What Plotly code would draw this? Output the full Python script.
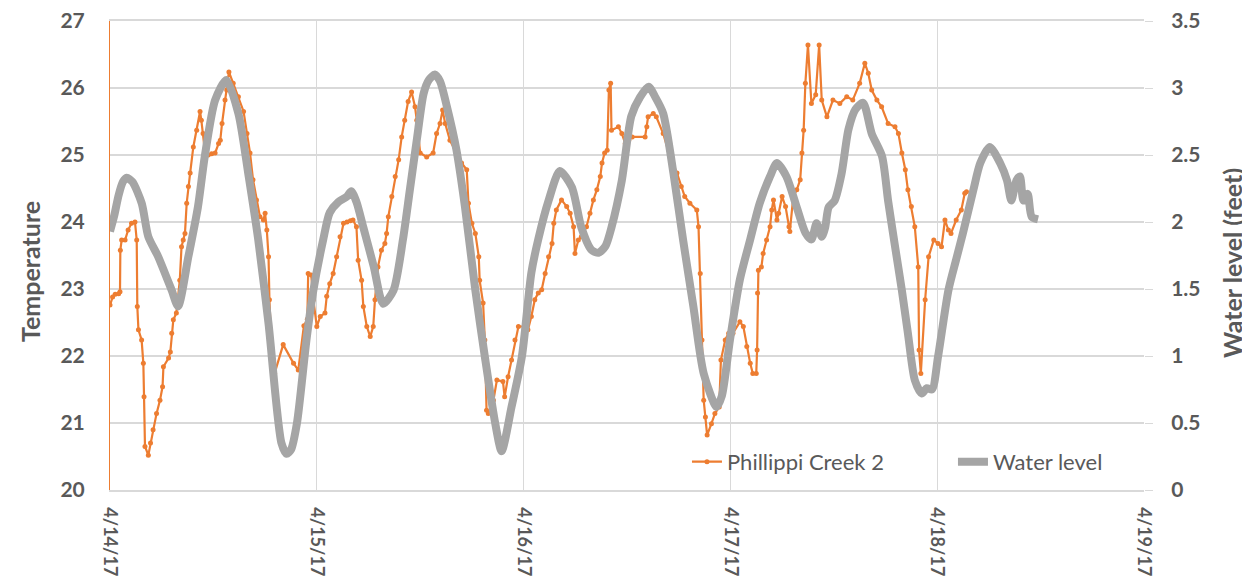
import pandas as pd
import plotly.graph_objects as go

# ---- data (hours since 4/14/17 00:00, values) ----
temp_hours = [0.0, 0.3, 0.6, 1.0, 1.16, 1.2, 1.35, 1.75, 2.1, 2.5, 2.9, 3.1, 3.17, 3.3, 3.67, 3.87, 3.95, 4.06, 4.45, 4.7,
              5.0, 5.4, 5.8, 6.1, 6.2, 6.8, 7.0, 7.16, 7.35, 7.7, 8.1, 8.3, 8.5, 8.7, 8.9, 9.1, 9.3, 9.67, 10.06, 10.45,
              10.6, 10.8, 11.0, 11.4, 11.8, 12.2, 12.6, 12.8, 13.0, 13.35, 13.55, 13.8, 14.3, 14.9, 15.5, 15.9, 16.25, 16.6, 17.0, 17.4,
              17.8, 18.0, 18.2, 18.4, 18.5, 18.7, 19.1, 20.1, 21.3, 21.85, 22.5, 22.9, 23.0, 23.35, 23.6, 24.0, 24.4, 24.95, 25.15, 25.5,
              25.9, 26.3, 26.7, 27.1, 27.5, 27.9, 28.2, 28.6, 28.8, 29.2, 29.4, 29.8, 30.2, 30.55, 30.75, 31.1, 31.5, 31.9, 32.1, 32.3,
              32.7, 33.1, 33.5, 33.85, 34.2, 34.6, 35.0, 35.4, 35.6, 36.0, 36.75, 37.5, 37.9, 38.3, 38.6, 38.9, 39.45, 40.2, 40.8, 41.4,
              41.6, 42.0, 42.4, 42.8, 42.9, 43.3, 43.5, 43.7, 43.9, 44.5, 44.9, 45.6, 45.8, 46.2, 46.6, 47.0, 47.4, 48.2, 48.5, 48.9,
              49.3, 49.7, 50.1, 50.5, 50.9, 51.3, 51.5, 51.8, 52.4, 53.0, 53.4, 53.8, 53.96, 54.35, 54.7, 55.3, 55.7, 56.1, 56.5, 56.9,
              57.1, 57.4, 57.7, 57.9, 58.1, 58.2, 59.0, 59.4, 59.8, 60.2, 60.6, 62.1, 62.3, 62.45, 63.05, 63.4, 64.2, 65.0, 65.8, 66.3,
              66.7, 67.3, 68.1, 68.3, 68.5, 68.7, 68.9, 69.1, 69.3, 69.8, 70.2, 70.7, 70.9, 71.4, 71.8, 72.3, 73.1, 73.5, 73.9, 74.3,
              74.6, 75.0, 75.1, 75.15, 75.25, 75.6, 75.8, 76.2, 76.6, 76.8, 77.0, 77.4, 77.6, 78.0, 78.4, 78.8, 78.9, 79.3, 79.7, 80.1,
              80.3, 80.5, 80.7, 81.0, 81.4, 81.9, 82.3, 82.6, 83.2, 83.9, 84.7, 85.5, 86.2, 87.0, 87.6, 88.0, 88.4, 89.0, 89.55, 90.3,
              91.1, 91.5, 91.9, 92.3, 92.6, 93.0, 93.4, 93.8, 93.9, 94.1, 94.6, 95.0, 95.6, 96.1, 96.5, 96.9, 97.3, 97.6, 98.2, 98.8,
              99.2, 99.4]
temp_values = [22.76, 22.88, 22.92, 22.93, 22.96, 23.58, 23.73, 23.73, 23.88, 23.98, 24.0, 23.73, 22.74, 22.39, 22.24, 21.89, 21.39, 20.65, 20.52, 20.7,
               20.9, 21.14, 21.34, 21.54, 21.84, 21.97, 22.06, 22.34, 22.54, 22.64, 23.13, 23.63, 23.73, 23.83, 24.28, 24.53, 24.73, 25.12, 25.37, 25.65,
               25.52, 25.32, 25.07, 25.0, 25.02, 25.03, 25.17, 25.22, 25.47, 25.82, 25.97, 26.24, 26.07, 25.87, 25.65, 25.32, 25.03, 24.63, 24.33, 24.08,
               24.03, 24.13, 23.88, 23.48, 22.84, 22.24, 21.74, 22.17, 21.89, 21.79, 22.45, 22.55, 23.23, 23.21, 22.84, 22.44, 22.59, 22.64, 22.89, 23.08,
               23.23, 23.48, 23.78, 23.98, 24.0, 24.02, 24.03, 23.93, 23.43, 23.13, 22.74, 22.44, 22.29, 22.44, 22.84, 23.33, 23.58, 23.68, 23.83, 24.08,
               24.38, 24.68, 24.93, 25.27, 25.52, 25.8, 25.94, 25.72, 25.52, 25.03, 24.97, 25.03, 25.32, 25.47, 25.67, 25.47, 25.22, 25.03, 24.88, 24.78,
               24.28, 23.98, 23.83, 23.48, 23.13, 22.79, 22.24, 21.19, 21.14, 21.34, 21.64, 21.62, 21.39, 21.69, 21.94, 22.24, 22.44, 22.44, 22.39, 22.59,
               22.84, 22.94, 22.99, 23.23, 23.48, 23.68, 23.98, 24.18, 24.33, 24.23, 24.13, 23.93, 23.53, 23.73, 23.78, 23.93, 24.13, 24.33, 24.48, 24.68,
               24.88, 25.03, 25.07, 25.97, 26.07, 25.37, 25.42, 25.32, 25.17, 25.22, 25.27, 25.27, 25.42, 25.57, 25.62, 25.57, 25.32, 24.97, 24.73, 24.53,
               24.38, 24.28, 24.18, 23.93, 23.23, 22.24, 21.34, 21.09, 20.82, 20.99, 21.14, 21.24, 21.94, 22.24, 22.34, 22.34, 22.51, 22.44, 22.14, 21.89,
               21.74, 21.74, 22.09, 22.94, 23.28, 23.33, 23.53, 23.73, 23.93, 24.18, 24.33, 24.03, 24.13, 24.38, 24.23, 23.93, 23.86, 24.38, 24.48, 24.63,
               25.03, 25.37, 26.07, 26.64, 25.77, 25.9, 26.64, 25.82, 25.57, 25.82, 25.77, 25.87, 25.82, 26.07, 26.37, 26.22, 25.97, 25.82, 25.72, 25.47,
               25.42, 25.32, 25.03, 24.78, 24.48, 24.23, 23.93, 23.33, 22.09, 21.74, 22.84, 23.48, 23.73, 23.68, 23.63, 24.03, 23.88, 23.83, 24.03, 24.18,
               24.43, 24.45]

water_hours = [0.0, 0.5, 1.0, 1.5, 1.94, 2.6, 3.68, 4.45, 5.6, 7.16, 7.9, 9.09, 10.2, 11.0, 12.2, 13.5, 14.9, 16.05, 17.2, 18.4,
               19.9, 20.5, 21.0, 21.7, 22.8, 23.6, 24.75, 25.5, 26.5, 27.5, 28.0, 28.6, 29.4, 30.6, 31.7, 32.9, 34.0, 34.8, 35.6, 36.4,
               37.0, 37.7, 38.3, 39.1, 40.2, 41.2, 42.4, 43.5, 44.7, 45.45, 46.6, 47.8, 48.9, 49.7, 50.9, 52.2, 53.6, 54.7, 55.9, 56.7,
               57.5, 58.2, 59.4, 60.5, 61.5, 62.5, 63.3, 64.2, 65.4, 66.5, 67.7, 68.9, 70.4, 71.0, 71.95, 73.1, 74.3, 75.4, 76.6, 77.4,
               78.5, 79.7, 80.7, 81.4, 82.0, 82.6, 83.0, 83.4, 84.1, 84.9, 85.7, 86.5, 87.4, 88.4, 89.6, 90.3, 91.1, 91.9, 92.6, 93.4,
               94.2, 94.8, 95.4, 96.1, 97.3, 98.2, 99.0, 100.2, 101.0, 102.1, 103.3, 104.1, 104.6, 105.2, 105.6, 106.0, 106.5, 106.96, 107.7]
water_values = [1.93, 2.05, 2.2, 2.3, 2.33, 2.3, 2.14, 1.89, 1.74, 1.49, 1.37, 1.74, 2.11, 2.49, 2.91, 3.06, 2.81, 2.36, 1.87, 1.24,
                0.35, 0.27, 0.3, 0.5, 1.12, 1.49, 1.87, 2.07, 2.15, 2.19, 2.23, 2.15, 1.96, 1.67, 1.39, 1.49, 1.87, 2.24, 2.61, 2.96,
                3.06, 3.1, 3.05, 2.86, 2.54, 2.11, 1.49, 0.995, 0.5, 0.29, 0.62, 0.995, 1.62, 1.87, 2.16, 2.38, 2.26, 1.96, 1.79, 1.77,
                1.82, 1.96, 2.31, 2.79, 2.93, 3.01, 2.93, 2.81, 2.36, 1.87, 1.37, 0.87, 0.62, 0.7, 1.12, 1.57, 1.87, 2.14, 2.34, 2.44,
                2.34, 2.11, 1.92, 1.87, 1.99, 1.89, 1.96, 2.11, 2.16, 2.36, 2.69, 2.84, 2.89, 2.66, 2.49, 2.16, 1.82, 1.49, 1.17, 0.82,
                0.72, 0.76, 0.75, 0.995, 1.49, 1.72, 1.92, 2.24, 2.44, 2.56, 2.44, 2.31, 2.16, 2.31, 2.34, 2.16, 2.21, 2.04, 2.02]

series_names = ["Phillippi Creek 2", "Water level"]
axis_titles = ["Temperature", "Water level (feet)"]
start_date = "2017-04-14"

base = pd.Timestamp(start_date)
temp_t = base + pd.to_timedelta(temp_hours, unit="h")
water_t = base + pd.to_timedelta(water_hours, unit="h")

ORANGE = "#ED7D31"
GRAY = "#A5A5A5"
TXT = "#595959"
GRID = "#D9D9D9"
FONT = "Lato, Open Sans, sans-serif"

# page has an 8px body margin, so the figure is 8px smaller on each side
W, H = 1242, 571
L, R, T, B = 102, 106, 13, 89
PW, PH = W - L - R, H - T - B

fig = go.Figure()
fig.add_trace(go.Scatter(
    x=temp_t, y=temp_values, name=series_names[0], mode="lines+markers",
    line=dict(color=ORANGE, width=2.2), marker=dict(color=ORANGE, size=5),
    yaxis="y"))
fig.add_trace(go.Scatter(
    x=water_t, y=water_values, name=series_names[1], mode="lines",
    line=dict(color=GRAY, width=8, shape="spline", smoothing=0.7), yaxis="y2"))

tickfont = dict(size=21, color=TXT, weight="bold")

fig.update_layout(
    width=W, height=H,
    margin=dict(l=L, r=R, t=T, b=B, autoexpand=False),
    paper_bgcolor="white", plot_bgcolor="white",
    font=dict(family=FONT, color=TXT, size=19),
    showlegend=True,
    legend=dict(orientation="h", x=0.558, y=0.06, xanchor="left", yanchor="middle",
                bgcolor="rgba(0,0,0,0)", font=dict(size=22, color=TXT),
                entrywidth=221, entrywidthmode="pixels", itemwidth=30),
    xaxis=dict(type="date", range=["2017-04-14", "2017-04-19"], dtick=86400000,
               tick0="2017-04-14", tickformat="%-m/%-d/%y", tickangle=90,
               showgrid=True, gridcolor=GRID, gridwidth=1,
               showline=True, mirror=True, linecolor=GRID, linewidth=1.5, automargin=False,
               ticks="", ticklabelstandoff=12, ticklabeloverflow="allow",
               tickfont=dict(size=18, color=TXT, weight="bold"),
               zeroline=False),
    yaxis=dict(range=[20, 27], dtick=1, showgrid=True, gridcolor=GRID, gridwidth=1.5,
               showline=True, linecolor=ORANGE, linewidth=1, ticks="", automargin=False,
               ticklabelstandoff=20, ticklabeloverflow="allow", tickfont=tickfont, zeroline=False),
    yaxis2=dict(range=[0, 3.5], dtick=0.5, overlaying="y", side="right",
                showgrid=False, showline=False, ticks="outside", ticklen=8, tickcolor=GRID,
                automargin=False, ticklabelstandoff=14, ticklabeloverflow="allow",
                tickfont=tickfont, zeroline=False),
    annotations=[
        dict(text="<b>%s</b>" % axis_titles[0], textangle=-90, showarrow=False,
             xref="paper", yref="paper", x=(22 - L) / PW, y=(H - B - 264) / PH,
             xanchor="center", yanchor="middle", font=dict(size=25, color=TXT)),
        dict(text="<b>%s</b>" % axis_titles[1], textangle=-90, showarrow=False,
             xref="paper", yref="paper", x=(1224 - L) / PW, y=(H - B - 255) / PH,
             xanchor="center", yanchor="middle", font=dict(size=25, color=TXT)),
    ],
)

fig.write_html("out.html")
